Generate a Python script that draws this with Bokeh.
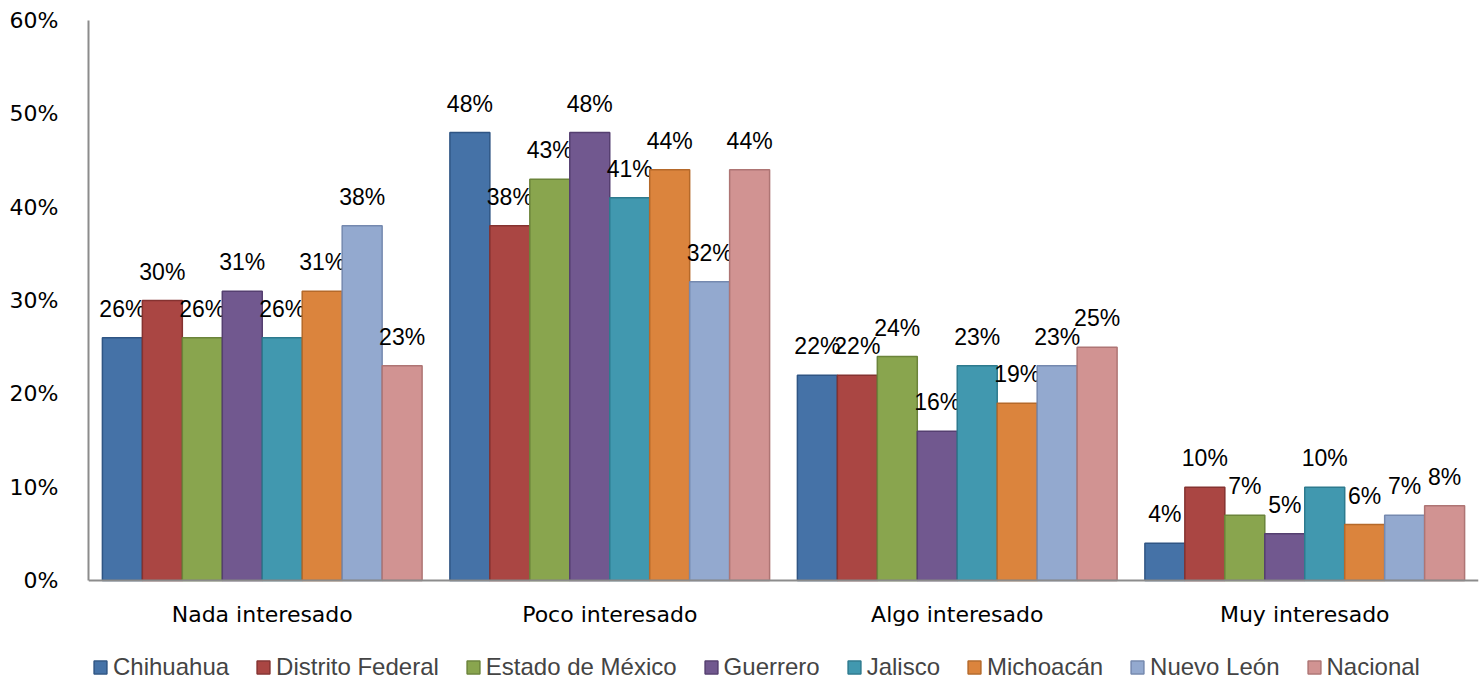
from bokeh.plotting import figure
from bokeh.models import FactorRange, ColumnDataSource, Legend, LegendItem, PrintfTickFormatter, FixedTicker, Span
from bokeh.transform import dodge
from bokeh.core.properties import value
from bokeh.embed import file_html
from bokeh.resources import INLINE

categories = ["Nada interesado", "Poco interesado", "Algo interesado", "Muy interesado"]
series = ["Chihuahua", "Distrito Federal", "Estado de México", "Guerrero", "Jalisco", "Michoacán", "Nuevo León", "Nacional"]
chihuahua = [26, 48, 22, 4]
distrito_federal = [30, 38, 22, 10]
estado_mexico = [26, 43, 24, 7]
guerrero = [31, 48, 16, 5]
jalisco = [26, 41, 23, 10]
michoacan = [31, 44, 19, 6]
nuevo_leon = [38, 32, 23, 7]
nacional = [23, 44, 25, 8]
values = [chihuahua, distrito_federal, estado_mexico, guerrero, jalisco, michoacan, nuevo_leon, nacional]
y_ticks = [0, 10, 20, 30, 40, 50, 60]

fills = ["#4572A7", "#AA4643", "#89A54E", "#71588F", "#4198AF", "#DB843D", "#93A9CF", "#D19392"]
lines = ["#2F5584", "#853230", "#6B843A", "#553F70", "#2D7A8E", "#B5692A", "#7589AF", "#AE7574"]

# frame extends below the value axis to hold category labels and legend
PLOT_PX = 560
EXTRA_PX = 101
y_low = -60 * EXTRA_PX / PLOT_PX

p = figure(x_range=FactorRange(*categories, range_padding=0), y_range=(y_low, 60),
           frame_width=1390, frame_height=PLOT_PX + EXTRA_PX, output_backend="svg", toolbar_location=None,
           min_border_left=88, min_border_right=4, min_border_top=20, min_border_bottom=0,
           outline_line_color=None, background_fill_color="white")

bw = 0.115
items = []
for i, (name, vals) in enumerate(zip(series, values)):
    src = ColumnDataSource(dict(cat=categories, v=vals, lab=[f"{v}%" for v in vals]))
    off = (i - 3.5) * bw
    r = p.vbar(x=dodge("cat", off, range=p.x_range), top="v", bottom=0, width=bw, source=src,
               fill_color=fills[i], line_color=lines[i], line_width=1.5)
    p.text(x=dodge("cat", off, range=p.x_range), y="v", text="lab", source=src,
           text_align="center", text_baseline="bottom", y_offset=-16,
           text_font=value("Liberation Sans"), text_font_size="23px", text_color="#000000")
    items.append(LegendItem(label=name, renderers=[r]))

# category axis: line at zero and labels below it
p.add_layout(Span(location=0, dimension="width", line_color="#8c8c8c", line_width=2))
cat_src = ColumnDataSource(dict(cat=categories, y=[0] * len(categories)))
p.text(x="cat", y="y", text="cat", source=cat_src, text_align="center", text_baseline="middle",
       y_offset=34, text_font=value("DejaVu Sans"), text_font_size="22px", text_color="#000000")

p.xaxis.visible = False
p.xgrid.visible = False
p.ygrid.visible = False
p.yaxis.ticker = FixedTicker(ticks=y_ticks)
p.yaxis.bounds = (0, 60)
p.yaxis.formatter = PrintfTickFormatter(format="%d%%")
p.yaxis.axis_line_color = "#8c8c8c"
p.yaxis.axis_line_width = 2
p.yaxis.major_tick_line_color = None
p.yaxis.minor_tick_line_color = None
p.yaxis.major_label_text_font = "DejaVu Sans"
p.yaxis.major_label_text_font_size = "22px"
p.yaxis.major_label_text_color = "#000000"
p.yaxis.major_label_standoff = 24

legend = Legend(items=items, orientation="horizontal", location=(4, 0),
                label_text_font="Liberation Sans", label_text_font_size="24px",
                glyph_width=16, glyph_height=16, spacing=26, label_standoff=5,
                border_line_color=None, background_fill_alpha=0, padding=2, margin=0)
p.add_layout(legend)

open("out.html", "w").write(file_html(p, INLINE))
